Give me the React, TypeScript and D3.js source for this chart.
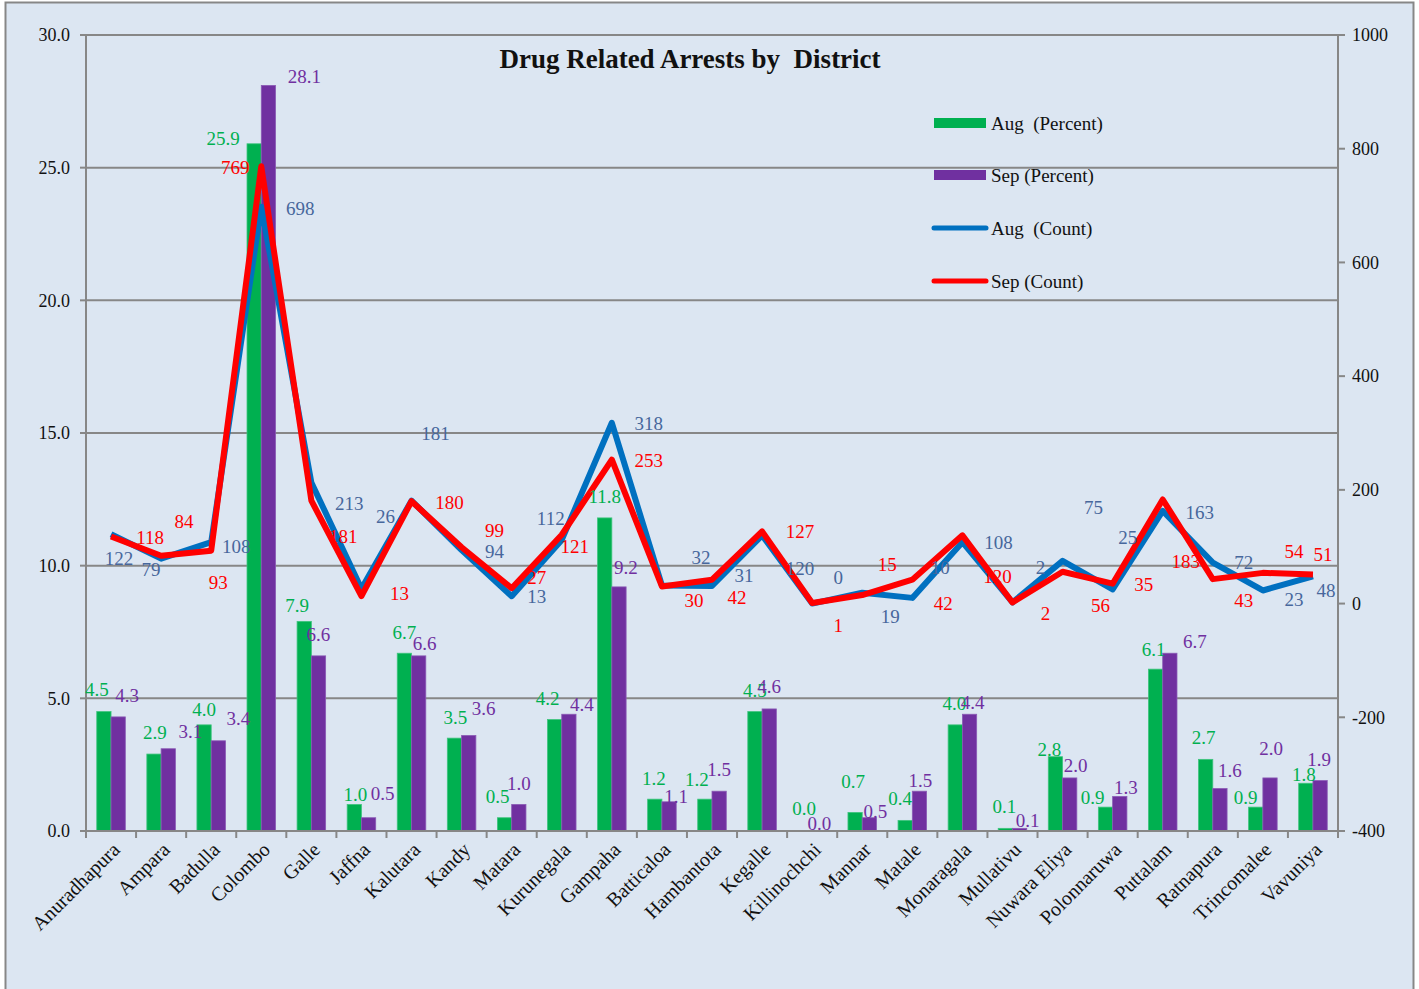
import React from "react";
import * as d3 from "d3";

const districts = [
  "Anuradhapura", "Ampara", "Badulla", "Colombo", "Galle", "Jaffna", "Kalutara", "Kandy",
  "Matara", "Kurunegala", "Gampaha", "Batticaloa", "Hambantota", "Kegalle", "Killinochchi",
  "Mannar", "Matale", "Monaragala", "Mullativu", "Nuwara Eliya", "Polonnaruwa", "Puttalam",
  "Ratnapura", "Trincomalee", "Vavuniya",
];
const augPercent = [4.5, 2.9, 4.0, 25.9, 7.9, 1.0, 6.7, 3.5, 0.5, 4.2, 11.8, 1.2, 1.2, 4.5, 0.0, 0.7, 0.4, 4.0, 0.1, 2.8, 0.9, 6.1, 2.7, 0.9, 1.8];
const sepPercent = [4.3, 3.1, 3.4, 28.1, 6.6, 0.5, 6.6, 3.6, 1.0, 4.4, 9.2, 1.1, 1.5, 4.6, 0.0, 0.5, 1.5, 4.4, 0.1, 2.0, 1.3, 6.7, 1.6, 2.0, 1.9];
const augCount = [122, 79, 108, 698, 213, 26, 181, 94, 13, 112, 318, 32, 31, 120, 0, 19, 10, 108, 2, 75, 25, 163, 72, 23, 48];
const sepCount = [118, 84, 93, 769, 181, 13, 180, 99, 27, 121, 253, 30, 42, 127, 1, 15, 42, 120, 2, 56, 35, 183, 43, 54, 51];
const leftTicks = [0, 5, 10, 15, 20, 25, 30];
const rightTicks = [-400, -200, 0, 200, 400, 600, 800, 1000];
const legendLabels = ["Aug  (Percent)", "Sep (Percent)", "Aug  (Count)", "Sep (Count)"];
const title = "Drug Related Arrests by  District";

// label placement (pixel offsets from the anchor, as moved by hand in the original)
const augPctOff = [[-7,-22],[1,-22],[0,-16],[-31,-5],[-7,-16],[1,-10],[0,-21],[1,-21],[-7,-21],[-7,-21],[0,-22],[-1,-21],[-8,-20],[0,-21],[-1,-23],[-2,-31],[-5,-22],[-1,-22],[-1,-22],[-6,-7],[-13,-10],[-2,-20],[-2,-22],[-10,-10],[-2,-9]];
const sepPctOff = [[9,-22],[22,-17],[20,-22],[36,-9],[0,-22],[14,-24],[6,-13],[15,-27],[0,-21],[13,-10],[7,-20],[7,-5],[0,-22],[0,-23],[0,-8],[6,-6],[1,-11],[3,-12],[8,-8],[6,-13],[6,-9],[25,-12],[10,-18],[1,-30],[-1,-21]];
const augCntOff = [[8,24],[-10,11],[25,4],[39,2],[38,21],[24,-72],[24,-67],[33,1],[25,0],[-11,-22],[37,1],[39,-28],[32,-11],[38,33],[26,-26],[28,24],[28,-31],[36,0],[28,-35],[31,-54],[15,-52],[37,1],[31,0],[31,9],[13,14]];
const sepCntOff = [[39,1],[23,-34],[7,32],[-26,1],[32,36],[38,-3],[38,1],[33,-17],[25,-11],[13,12],[37,1],[32,14],[25,18],[38,0],[26,22],[25,-31],[31,24],[35,41],[33,11],[38,34],[31,1],[23,62],[31,21],[31,-22],[10,-20]];

const W = 1419, H = 989;
const left = 86, right = 1338, top = 35, bottom = 831;
const FONT = "'Liberation Serif', 'DejaVu Serif', serif";
const GREEN = "#00B050", PURPLE = "#7030A0", BLUE = "#0070C0", RED = "#FF0000";
const BLUE_TXT = "#47679C", GRID = "#878787";

export default function App() {
  const x = d3.scaleBand<string>().domain(districts).range([left, right]).padding(0);
  const bw = x.bandwidth();
  const barW = bw * 0.285;
  const cx = (i: number) => (x(districts[i]) as number) + bw / 2;
  const yL = d3.scaleLinear().domain([0, 30]).range([bottom, top]);
  const yR = d3.scaleLinear().domain([-400, 1000]).range([bottom, top]);
  const line = d3.line<number>().x((_, i) => cx(i)).y((d) => yR(d));
  const lbl = { fontFamily: FONT, fontSize: 19 } as const;

  return (
    <svg width={W} height={H} style={{ position: "absolute", left: 0, top: 0, display: "block" }}>
      <rect x={0} y={0} width={W} height={H} fill="#ffffff" />
      <rect x={5.5} y={2.5} width={1408} height={H + 10} fill="#DCE6F2" stroke={GRID} strokeWidth={2} />
      {/* gridlines */}
      {leftTicks.map((t) => (
        <line key={"g" + t} x1={left} x2={right} y1={yL(t)} y2={yL(t)} stroke={GRID} strokeWidth={2} />
      ))}
      {/* axes */}
      <line x1={left} x2={left} y1={top} y2={bottom} stroke={GRID} strokeWidth={2} />
      <line x1={right} x2={right} y1={top} y2={bottom} stroke={GRID} strokeWidth={2} />
      {leftTicks.map((t) => (
        <g key={"lt" + t}>
          <line x1={left - 6} x2={left} y1={yL(t)} y2={yL(t)} stroke={GRID} strokeWidth={2} />
          <text x={70} y={yL(t)} dy="0.35em" textAnchor="end" style={{ ...lbl, fontSize: 18 }} fill="#111">
            {t.toFixed(1)}
          </text>
        </g>
      ))}
      {rightTicks.map((t) => (
        <g key={"rt" + t}>
          <line x1={right} x2={right + 7} y1={yR(t)} y2={yR(t)} stroke={GRID} strokeWidth={2} />
          <text x={1352} y={yR(t)} dy="0.35em" textAnchor="start" style={{ ...lbl, fontSize: 18 }} fill="#111">
            {t}
          </text>
        </g>
      ))}
      {/* x ticks */}
      {districts.concat([""]).map((_, i) => {
        const xx = left + bw * i;
        return <line key={"xt" + i} x1={xx} x2={xx} y1={bottom} y2={bottom + 7} stroke={GRID} strokeWidth={2} />;
      })}
      {/* bars */}
      {districts.map((d, i) => (
        <g key={"b" + d}>
          <rect x={cx(i) - barW} y={yL(augPercent[i])} width={barW} height={bottom - yL(augPercent[i])} fill={GREEN} stroke="#3fc47e" strokeWidth={0.8} />
          <rect x={cx(i)} y={yL(sepPercent[i])} width={barW} height={bottom - yL(sepPercent[i])} fill={PURPLE} stroke="#8a5ab5" strokeWidth={0.8} />
        </g>
      ))}
      {/* x axis line on top of bars */}
      <line x1={left} x2={right} y1={bottom} y2={bottom} stroke={GRID} strokeWidth={2} />
      {/* lines */}
      <path d={line(augCount) as string} fill="none" stroke={BLUE} strokeWidth={6} strokeLinejoin="round" />
      <path d={line(sepCount) as string} fill="none" stroke={RED} strokeWidth={6} strokeLinejoin="round" />
      {/* bar labels */}
      {districts.map((d, i) => (
        <g key={"bl" + d} style={lbl}>
          <text x={cx(i) - barW / 2 + augPctOff[i][0]} y={yL(augPercent[i]) + augPctOff[i][1]} dy="0.35em" textAnchor="middle" fill={GREEN}>
            {augPercent[i].toFixed(1)}
          </text>
          <text x={cx(i) + barW / 2 + sepPctOff[i][0]} y={yL(sepPercent[i]) + sepPctOff[i][1]} dy="0.35em" textAnchor="middle" fill={PURPLE}>
            {sepPercent[i].toFixed(1)}
          </text>
        </g>
      ))}
      {/* count labels */}
      {districts.map((d, i) => (
        <g key={"cl" + d} style={lbl}>
          <text x={cx(i) + augCntOff[i][0]} y={yR(augCount[i]) + augCntOff[i][1]} dy="0.35em" textAnchor="middle" fill={BLUE_TXT}>
            {augCount[i]}
          </text>
          <text x={cx(i) + sepCntOff[i][0]} y={yR(sepCount[i]) + sepCntOff[i][1]} dy="0.35em" textAnchor="middle" fill={RED}>
            {sepCount[i]}
          </text>
        </g>
      ))}
      {/* x labels */}
      {districts.map((d, i) => (
        <text key={"xl" + d} transform={`translate(${cx(i) + 5},${bottom + 15}) rotate(-45)`} textAnchor="end" dy="0.35em" style={{ ...lbl, fontSize: 20 }} fill="#111">
          {d}
        </text>
      ))}
      {/* title */}
      <text x={690} y={59} dy="0.35em" textAnchor="middle" style={{ fontFamily: FONT, fontSize: 27, fontWeight: "bold", whiteSpace: "pre" }} fill="#111">
        {title}
      </text>
      {/* legend */}
      {legendLabels.map((l, i) => {
        const ly = [123, 175, 228, 281][i];
        return (
          <g key={"lg" + i}>
            {i < 2 ? (
              <rect x={934} y={ly - 5} width={52} height={10} fill={i === 0 ? GREEN : PURPLE} />
            ) : (
              <line x1={934} x2={986} y1={ly} y2={ly} stroke={i === 2 ? BLUE : RED} strokeWidth={5} strokeLinecap="round" />
            )}
            <text x={991} y={ly} dy="0.35em" style={{ ...lbl, whiteSpace: "pre" }} fill="#111">
              {l}
            </text>
          </g>
        );
      })}
    </svg>
  );
}
